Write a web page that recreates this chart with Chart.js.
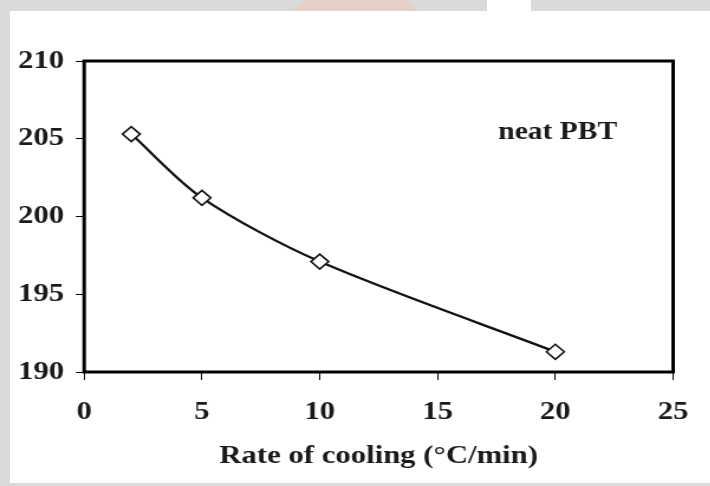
<!DOCTYPE html>
<html>
<head>
<meta charset="utf-8">
<script src="https://cdn.jsdelivr.net/npm/chart.js@4"></script>
<style>
  html, body { margin: 0; padding: 0; }
  body {
    width: 710px; height: 486px; overflow: hidden; position: relative;
    background:
      linear-gradient(#ffffff, #ffffff) no-repeat 487px 0 / 44px 11px,
      radial-gradient(circle at 355px 60px, rgba(238, 200, 184, 0.55) 0, rgba(238, 200, 184, 0.55) 78px, rgba(238, 200, 184, 0) 80px) no-repeat 0 0 / 100% 11px,
      linear-gradient(#dadada, #dadada) no-repeat 0 0 / 100% 11px,
      linear-gradient(#dadada, #dadada) no-repeat 0 0 / 10px 100%,
      linear-gradient(#dadada, #dadada) no-repeat 0 100% / 100% 3px,
      #ffffff;
  }
  #wrap {
    position: absolute; left: 0; top: 0;
    width: 601.7px; height: 486px;
    transform: scaleX(1.18); transform-origin: 0 0;
  }
</style>
</head>
<body>
<div id="wrap"><canvas id="grafica"></canvas></div>
<script>
// Datos de la curva
const velocidades = [2, 5, 10, 20];
const temperaturas = [205.3, 201.2, 197.1, 191.3];
const ticksX = [0, 5, 10, 15, 20, 25];
const ticksY = [190, 195, 200, 205, 210];
const tituloX = 'Rate of cooling (°C/min)';
const etiqueta = 'neat PBT';

const fuente = '"Liberation Serif", "Times New Roman", serif';

// Marco negro alrededor del area de la grafica
const marco = {
    id: 'marco',
    beforeDatasetsDraw(chart) {
        const a = chart.chartArea;
        const ctx = chart.ctx;
        ctx.save();
        ctx.strokeStyle = '#000';
        ctx.lineWidth = 3;
        ctx.strokeRect(a.left, a.top, a.right - a.left, a.bottom - a.top);
        ctx.restore();
    }
};

// Texto "neat PBT" dentro de la grafica
const texto = {
    id: 'texto',
    afterDatasetsDraw(chart) {
        const ctx = chart.ctx;
        const x = chart.scales.x.getPixelForValue(20.1);
        const y = chart.scales.y.getPixelForValue(205.4);
        ctx.save();
        ctx.font = 'bold 25px ' + fuente;
        ctx.fillStyle = '#1a1a1a';
        ctx.textAlign = 'center';
        ctx.textBaseline = 'middle';
        ctx.fillText(etiqueta, x, y);
        ctx.restore();
    }
};

const ctx = document.getElementById('grafica').getContext('2d');
const grafica = new Chart(ctx, {
    type: 'line',
    data: {
        datasets: [{
            data: velocidades.map((v, i) => ({ x: v, y: temperaturas[i] })),
            borderColor: '#111',
            borderWidth: 2.3,
            tension: 0.3,
            pointStyle: 'rectRot',
            pointRadius: 7.5,
            pointBackgroundColor: '#fff',
            pointBorderColor: '#111',
            pointBorderWidth: 1.6
        }]
    },
    options: {
        responsive: true,
        maintainAspectRatio: false,
        animation: false,
        layout: { padding: { top: 61, right: 32.2, left: 0, bottom: 0 } },
        plugins: { legend: { display: false }, tooltip: { enabled: false } },
        scales: {
            x: {
                type: 'linear',
                min: 0,
                max: 25,
                afterBuildTicks: (s) => { s.ticks = ticksX.map(v => ({ value: v })); },
                afterFit: (s) => { s.height = 114; },
                grid: { display: true, drawOnChartArea: false, drawTicks: true, tickLength: 8, color: '#000', tickWidth: 1 },
                border: { display: false },
                ticks: { color: '#1a1a1a', padding: 17, maxRotation: 0, font: { family: fuente, size: 26, weight: 'bold' } },
                title: {
                    display: true,
                    text: tituloX,
                    color: '#1a1a1a',
                    padding: { top: 4, bottom: 14 },
                    font: { family: fuente, size: 26, weight: 'bold' }
                }
            },
            y: {
                min: 190,
                max: 210,
                afterBuildTicks: (s) => { s.ticks = ticksY.map(v => ({ value: v })); },
                afterFit: (s) => { s.width = 71.2; },
                grid: { display: true, drawOnChartArea: false, drawTicks: true, tickLength: 7, color: '#000', tickWidth: 1 },
                border: { display: false },
                ticks: { color: '#1a1a1a', padding: 10, font: { family: fuente, size: 26, weight: 'bold' } }
            }
        }
    },
    plugins: [marco, texto]
});
</script>
</body>
</html>
